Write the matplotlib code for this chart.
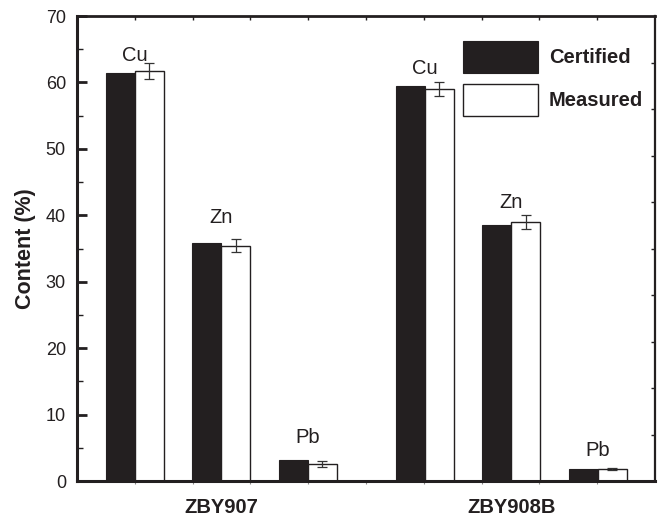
import numpy as np
import matplotlib.pyplot as plt
from matplotlib.ticker import MultipleLocator, FixedLocator

plt.rcParams['font.family'] = ['Liberation Sans', 'DejaVu Sans']

# === data ===
samples = ['ZBY907', 'ZBY908B']
elements = ['Cu', 'Zn', 'Pb']
certified = [61.4, 35.9, 3.1, 59.5, 38.6, 1.8]
measured = [61.7, 35.4, 2.6, 59.0, 39.0, 1.85]
measured_err = [1.2, 1.0, 0.45, 1.0, 1.0, 0.15]

# === layout ===
group_gap = 3.35
bw = 0.335
label_gap = [0.4, 2.4, 2.6, 1.3, 1.1, 1.8]   # hand-placed element labels
dark = '#231f20'

centers = np.concatenate([np.arange(3) + g * group_gap for g in range(len(samples))])

fig = plt.figure(figsize=(6.6, 5.17), dpi=100)
ax = fig.add_axes([77/660, 1 - 481/517, 578/660, 465/517])

b1 = ax.bar(centers - bw/2, certified, bw, color=dark, edgecolor=dark, linewidth=0.8,
            label='Certified', zorder=2)
b2 = ax.bar(centers + bw/2, measured, bw, color='white', edgecolor=dark, linewidth=1.0,
            label='Measured', zorder=2)
ax.errorbar(centers + bw/2, measured, yerr=measured_err, fmt='none', ecolor='#333333',
            elinewidth=0.9, capsize=3.5, capthick=0.9, zorder=3)

for i, x in enumerate(centers):
    top = max(certified[i], measured[i] + measured_err[i])
    ax.text(x, top + label_gap[i], elements[i % 3], ha='center', va='baseline',
            fontsize=14.5, color=dark)

xmin, xmax = -0.665, 6.01
ax.set_xlim(xmin, xmax)
ax.set_ylim(0, 70)

ax.yaxis.set_major_locator(MultipleLocator(10))
ax.yaxis.set_minor_locator(MultipleLocator(5))
ax.tick_params(axis='y', which='major', direction='in', length=7, width=2,
               labelsize=13, pad=8, colors=dark)
ax.tick_params(axis='y', which='minor', direction='in', length=4, width=1, colors=dark)
ax.set_ylabel('Content (%)', fontsize=15.5, fontweight='bold', labelpad=7, color=dark)

ax.set_xticks([1, 1 + group_gap])
ax.set_xticklabels(samples, fontsize=14.5, fontweight='bold', color=dark)
ax.xaxis.set_minor_locator(FixedLocator(np.linspace(xmin, xmax, 11)[1:-1]))
ax.tick_params(axis='x', which='major', length=0, pad=12)
ax.tick_params(axis='x', which='minor', direction='out', length=2.5, width=0.8,
               color='#888888')

for s in ax.spines.values():
    s.set_color(dark)
    s.set_linewidth(1.6)
ax.spines['left'].set_linewidth(2.2)
ax.spines['bottom'].set_linewidth(2.2)
ax.spines['top'].set_linewidth(2.0)

# Origin-style short ticks on top and right axes
top = ax.secondary_xaxis('top')
top.set_xticks(np.linspace(xmin, xmax, 11)[1:-1])
top.tick_params(direction='in', length=3, width=1, labeltop=False, colors=dark)
top.spines['top'].set_visible(False)
right = ax.secondary_yaxis('right')
right.set_yticks(np.linspace(0, 70, 11)[1:-1])
right.tick_params(direction='in', length=3, width=1, labelright=False, colors=dark)
right.spines['right'].set_visible(False)

leg = ax.legend(handles=[b1, b2], loc='upper left', bbox_to_anchor=(0.668, 0.946),
                frameon=False, borderpad=0, borderaxespad=0, handlelength=3.7,
                handleheight=2.05, handletextpad=0.55, labelspacing=0.55,
                prop={'size': 14.5, 'weight': 'bold'})
for t in leg.get_texts():
    t.set_color(dark)

fig.savefig('out.png', dpi=100)
